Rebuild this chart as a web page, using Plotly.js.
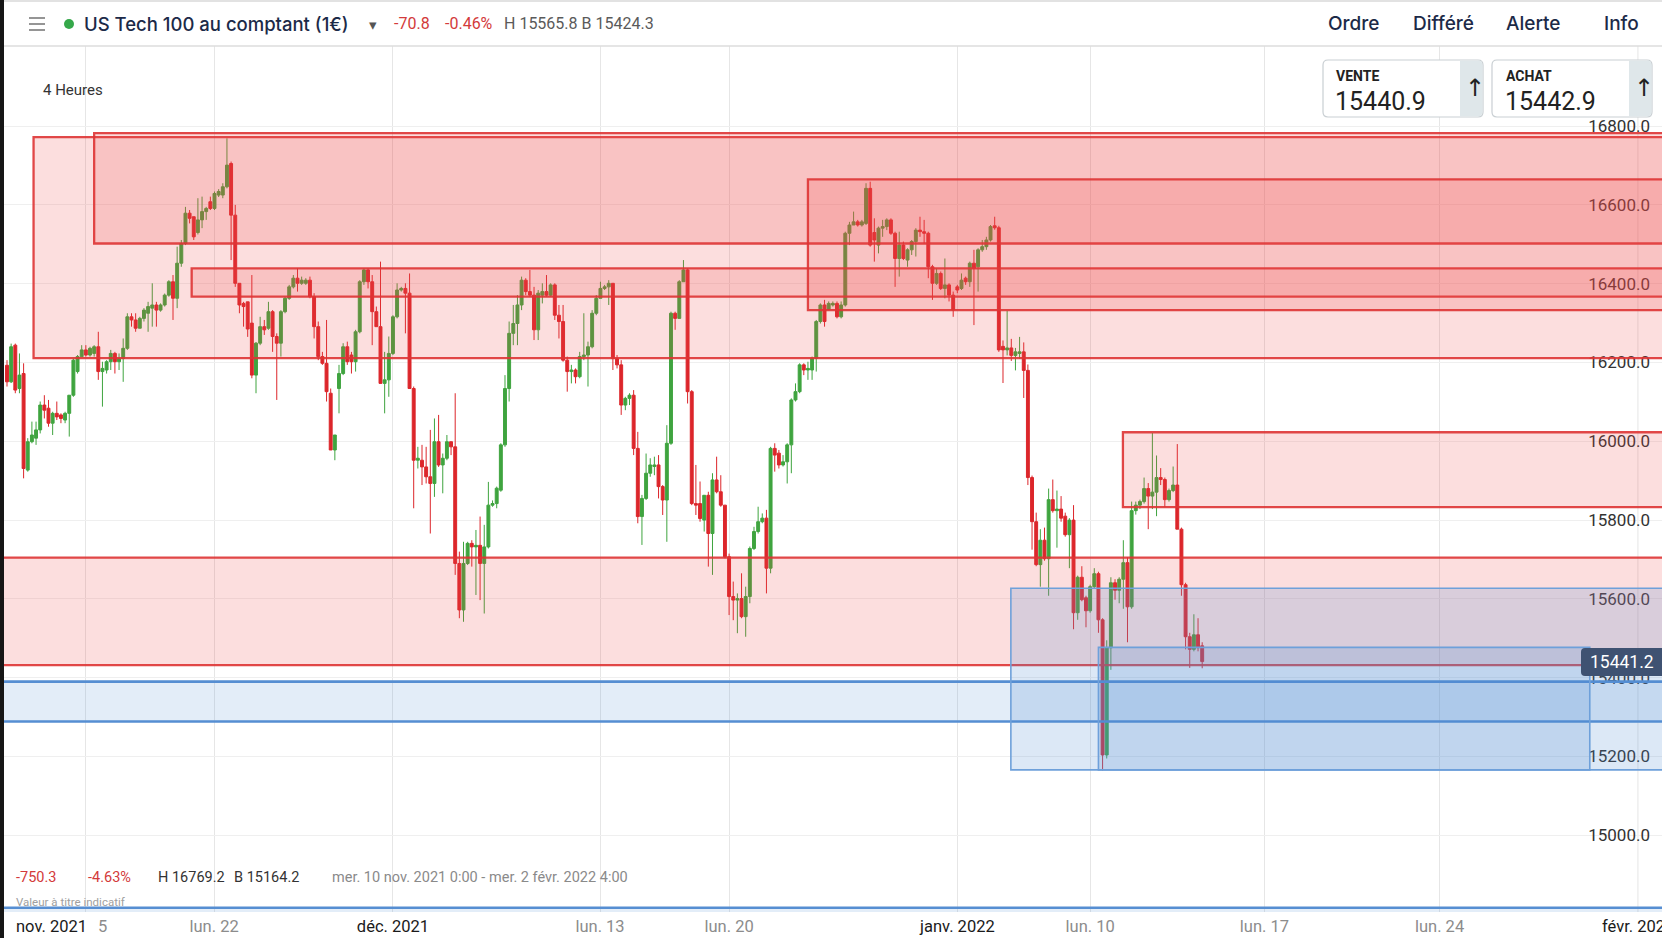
<!DOCTYPE html>
<html>
<head>
<meta charset="utf-8">
<script src="https://cdn.plot.ly/plotly-3.0.1.min.js"></script>
<style>
  html, body { margin: 0; padding: 0; background: #fff; }
  #chart { width: 1662px; height: 938px; }
</style>
</head>
<body>
<div id="chart"></div>
<script>
// 4h candles, US Tech 100, from mer. 10 nov. 2021 0:00 (one value per candle)
var open = [
  16193,16151,16244,16134,16172,15927,15999,16008,16029,16092,
  16084,16046,16071,16067,16054,16071,16117,16177,16215,16232,
  16219,16223,16240,16177,16181,16202,16223,16202,16210,16236,
  16316,16308,16287,16312,16325,16338,16346,16333,16346,16371,
  16405,16363,16452,16502,16579,16570,16530,16562,16583,16608,
  16591,16625,16625,16646,16705,16574,16401,16350,16354,16300,
  16168,16249,16291,16287,16329,16266,16249,16329,16363,16392,
  16414,16401,16401,16409,16367,16291,16215,16198,16122,15978,
  16134,16172,16240,16219,16202,16278,16405,16435,16405,16329,
  16291,16147,16156,16223,16316,16384,16388,16376,16134,15952,
  15952,15935,15910,15893,15999,15940,15957,15999,15986,15690,
  15572,15690,15741,15732,15736,15690,15732,15838,15842,15876,
  15991,16134,16274,16299,16346,16409,16380,16371,16283,16371,
  16380,16371,16397,16320,16304,16206,16177,16181,16164,16215,
  16219,16240,16325,16363,16388,16392,16401,16210,16194,16092,
  16109,16117,15982,15809,15855,15919,15936,15940,15885,15851,
  15995,16325,16312,16405,16435,16126,15842,15842,15800,15863,
  15766,15902,15872,15838,15707,15606,15597,15601,15555,15606,
  15728,15771,15796,15805,15678,15982,15970,15940,15948,15991,
  16105,16126,16194,16181,16181,16211,16304,16346,16335,16346,
  16350,16316,16346,16528,16549,16557,16549,16553,16642,16530,
  16498,16541,16545,16562,16528,16464,16498,16460,16486,16507,
  16536,16532,16528,16443,16401,16426,16388,16397,16371,16392,
  16388,16414,16405,16452,16443,16486,16494,16511,16547,16542,
  16241,16232,16237,16218,16223,16227,16180,15908,15796,15687,
  15749,15702,15852,15824,15828,15810,15763,15800,15565,15655,
  15603,15570,15631,15664,15547,15204,15476,15641,15622,15650,
  15692,15580,15824,15838,15847,15880,15861,15871,15908,15903,
  15852,15875,15889,15777,15636,15504,15472,15509,15481
];
var high = [
  16206,16248,16248,16223,16198,16008,16050,16050,16101,16117,
  16105,16075,16101,16071,16075,16117,16210,16219,16244,16244,
  16240,16244,16278,16202,16206,16232,16227,16223,16261,16325,
  16325,16325,16316,16338,16354,16401,16354,16350,16375,16409,
  16422,16494,16511,16595,16587,16570,16617,16621,16595,16621,
  16634,16640,16655,16769,16710,16600,16401,16354,16354,16422,
  16252,16316,16308,16354,16333,16274,16333,16367,16397,16422,
  16439,16418,16414,16418,16376,16304,16227,16308,16134,16016,
  16194,16249,16253,16227,16283,16409,16439,16439,16422,16342,
  16456,16227,16266,16320,16401,16392,16401,16426,16139,15986,
  15991,15986,16029,16058,16067,15969,16016,15999,16122,15720,
  15745,15745,15749,15775,15809,15788,15897,15850,15885,15995,
  16168,16304,16346,16371,16418,16414,16435,16392,16384,16401,
  16422,16401,16401,16346,16346,16215,16194,16185,16227,16325,
  16253,16333,16371,16405,16397,16409,16401,16219,16206,16113,
  16122,16130,16024,15864,15969,15957,15961,15965,15889,16041,
  16329,16329,16409,16460,16439,16130,15940,15898,15863,15872,
  15919,15961,15914,15838,15715,15644,15614,15665,15631,15733,
  15783,15834,15817,15826,15986,15995,15978,15965,15995,16109,
  16147,16198,16198,16202,16215,16308,16350,16359,16355,16355,
  16355,16355,16532,16557,16583,16562,16562,16655,16659,16566,
  16545,16562,16566,16566,16532,16532,16507,16490,16511,16541,
  16570,16562,16532,16448,16439,16431,16464,16401,16380,16397,
  16426,16418,16456,16486,16490,16511,16519,16549,16570,16547,
  16256,16331,16260,16237,16265,16251,16195,15913,15819,15777,
  15781,15880,15903,15875,15861,15819,15805,15838,15659,15683,
  15608,15636,15678,15669,15551,15495,15655,15650,15655,15749,
  15706,15847,15847,15852,15908,15894,16021,15964,15932,15908,
  15880,15936,15993,15781,15641,15514,15561,15551,15490
];
var low = [
  16139,16148,16122,16122,15906,15923,15995,15991,16020,16058,
  16037,16016,16054,16046,16046,16012,16113,16172,16215,16215,
  16215,16215,16156,16088,16172,16181,16172,16181,16151,16232,
  16291,16278,16287,16304,16278,16291,16291,16329,16342,16367,
  16308,16338,16443,16498,16553,16511,16525,16541,16562,16587,
  16587,16620,16617,16642,16460,16392,16325,16291,16265,16160,
  16122,16244,16270,16283,16227,16105,16215,16325,16359,16388,
  16380,16397,16397,16363,16261,16206,16194,16101,15978,15952,
  16071,16168,16194,16172,16177,16274,16397,16388,16244,16291,
  16147,16071,16113,16219,16312,16380,16274,16134,15830,15931,
  15889,15893,15766,15859,15935,15868,15952,15965,15661,15551,
  15542,15686,15682,15610,15597,15563,15728,15834,15830,15872,
  15986,16101,16244,16244,16333,16371,16367,16257,16257,16350,
  16367,16367,16308,16261,16202,16126,16147,16147,16160,16206,
  16139,16236,16320,16363,16384,16346,16181,16185,16067,16079,
  16092,15965,15792,15737,15851,15910,15914,15855,15813,15745,
  15991,16283,16312,16405,16096,15838,15813,15796,15771,15682,
  15661,15868,15834,15703,15559,15546,15513,15551,15504,15589,
  15724,15766,15792,15614,15665,15923,15931,15936,15893,15919,
  16101,16122,16168,16156,16156,16177,16299,16291,16333,16342,
  16312,16312,16342,16498,16549,16545,16545,16549,16494,16456,
  16477,16519,16536,16524,16392,16418,16460,16443,16473,16469,
  16519,16502,16414,16359,16397,16384,16363,16355,16316,16376,
  16384,16397,16392,16295,16380,16481,16486,16507,16537,16227,
  16148,16218,16204,16180,16209,16110,15889,15725,15683,15631,
  15697,15608,15819,15730,15796,15758,15678,15523,15547,15594,
  15528,15565,15626,15514,15164,15195,15420,15598,15589,15575,
  15490,15575,15814,15828,15842,15777,15828,15810,15889,15833,
  15847,15871,15777,15608,15472,15425,15467,15467,15424
];
var close = [
  16151,16240,16130,16168,15931,15999,16016,16029,16092,16079,
  16046,16071,16062,16058,16071,16117,16206,16215,16232,16219,
  16236,16240,16177,16185,16202,16223,16202,16210,16236,16316,
  16308,16287,16312,16333,16342,16346,16333,16346,16371,16405,
  16363,16452,16502,16579,16566,16519,16562,16583,16591,16591,
  16629,16634,16646,16701,16574,16401,16346,16342,16285,16168,
  16249,16291,16283,16329,16266,16249,16329,16363,16392,16414,
  16401,16409,16409,16367,16291,16215,16198,16126,15978,16016,
  16172,16240,16202,16202,16278,16405,16435,16405,16329,16291,
  16147,16156,16223,16316,16384,16388,16376,16134,15952,15957,
  15935,15910,15893,15999,15940,15957,15999,15986,15690,15572,
  15690,15741,15732,15736,15690,15732,15838,15842,15881,15991,
  16134,16274,16299,16346,16409,16380,16371,16283,16376,16380,
  16371,16397,16320,16304,16206,16177,16181,16164,16215,16219,
  16240,16325,16363,16388,16392,16401,16210,16194,16092,16109,
  16117,15982,15809,15855,15919,15940,15940,15885,15851,15995,
  16325,16312,16405,16435,16126,15842,15838,15804,15863,15766,
  15902,15872,15838,15707,15606,15597,15601,15555,15606,15728,
  15771,15796,15805,15678,15982,15965,15940,15948,15991,16105,
  16126,16194,16181,16185,16211,16304,16346,16304,16350,16350,
  16316,16346,16528,16549,16557,16549,16557,16642,16498,16511,
  16541,16545,16562,16528,16464,16498,16464,16486,16507,16536,
  16532,16528,16443,16401,16426,16388,16397,16371,16333,16384,
  16409,16405,16452,16439,16486,16494,16511,16545,16542,16232,
  16232,16237,16218,16227,16227,16180,15908,15796,15687,15749,
  15702,15852,15824,15828,15805,15763,15800,15565,15655,15598,
  15570,15631,15664,15547,15204,15476,15641,15622,15650,15692,
  15580,15824,15838,15847,15880,15861,15871,15908,15903,15852,
  15875,15889,15777,15636,15504,15472,15509,15476,15441
];

// x axis: candle number, labels where the app puts them
var tickPos = [19.0, 49.9, 93.0, 142.9, 174.0, 229.0, 261.0, 303.0, 345.2, 393.0];
var tickLabels = ['', 'lun. 22', 'déc. 2021', 'lun. 13', 'lun. 20', 'janv. 2022', 'lun. 10', 'lun. 17', 'lun. 24', 'févr. 2022'];

// drawn zones: [first candle, last candle, low price, high price]
var redZones = [
  [6.4, 420, 16211, 16772],
  [21.0, 420, 16502, 16782],
  [44.5, 420, 16367, 16439],
  [193.0, 420, 16333, 16665],
  [268.9, 420, 15833, 16023],
  [-10, 420, 15432, 15705]
];
var blueZones = [
  [-10, 420, 15289, 15390],
  [241.9, 420, 15166, 15627],
  [263.0, 381.4, 15166, 15477],
  [-10, 420, 14600, 14816]
];

var lastPrice = 15441.2;

var W = 1662, H = 938;
var EDGE_TICK = 380;   // ticks past this sit under the price labels, drawn by hand
function X(px) { return px / W; }
function Y(py) { return 1 - py / H; }
function pt(x, y) { return X(x).toFixed(5) + ',' + Y(y).toFixed(5); }

function roundRect(x0, y0, x1, y1, r) {
  return 'M' + pt(x0 + r, y0) + ' L' + pt(x1 - r, y0) + ' Q' + pt(x1, y0) + ' ' + pt(x1, y0 + r) +
    ' L' + pt(x1, y1 - r) + ' Q' + pt(x1, y1) + ' ' + pt(x1 - r, y1) +
    ' L' + pt(x0 + r, y1) + ' Q' + pt(x0, y1) + ' ' + pt(x0, y1 - r) +
    ' L' + pt(x0, y0 + r) + ' Q' + pt(x0, y0) + ' ' + pt(x0 + r, y0) + ' Z';
}
function rightRound(x0, y0, x1, y1, r) {
  return 'M' + pt(x0, y0) + ' L' + pt(x1 - r, y0) + ' Q' + pt(x1, y0) + ' ' + pt(x1, y0 + r) +
    ' L' + pt(x1, y1 - r) + ' Q' + pt(x1, y1) + ' ' + pt(x1 - r, y1) + ' L' + pt(x0, y1) + ' Z';
}
function leftRound(x0, y0, x1, y1, r) {
  return 'M' + pt(x0 + r, y0) + ' L' + pt(x1, y0) + ' L' + pt(x1, y1) + ' L' + pt(x0 + r, y1) +
    ' Q' + pt(x0, y1) + ' ' + pt(x0, y1 - r) + ' L' + pt(x0, y0 + r) + ' Q' + pt(x0, y0) + ' ' + pt(x0 + r, y0) + ' Z';
}

var HEAD = 'Inter, Roboto, sans-serif';
var BODY = 'Roboto, "Liberation Sans", sans-serif';

function txt(x, y, text, size, color, family, extra) {
  var a = {
    xref: 'paper', yref: 'paper', x: X(x), y: Y(y),
    xanchor: 'left', yanchor: 'middle', showarrow: false, text: text,
    font: { family: family || BODY, size: size, color: color }
  };
  if (extra) for (var k in extra) a[k] = extra[k];
  return a;
}
function menu(x, text) {
  return txt(x, 24, text, 19, '#1c2a48', HEAD, { font: { family: HEAD, size: 19, color: '#1c2a48', weight: 500 } });
}
function tickColor(t) { return t.indexOf('lun.') === 0 ? '#8c8c8c' : '#1a1a1a'; }

var idx = close.map(function (_, i) { return i; });

var candles = {
  type: 'candlestick',
  x: idx, open: open, high: high, low: low, close: close,
  increasing: { line: { color: '#3fa43f', width: 1 }, fillcolor: '#3fa43f' },
  decreasing: { line: { color: '#dc262b', width: 1 }, fillcolor: '#dc262b' },
  whiskerwidth: 0,
  hoverinfo: 'none',
  showlegend: false
};

var shapes = [];
redZones.forEach(function (z) {
  shapes.push({
    type: 'rect', xref: 'x', yref: 'y', layer: 'above',
    x0: z[0], x1: z[1], y0: z[2], y1: z[3],
    fillcolor: 'rgba(236,72,72,0.18)',
    line: { color: 'rgba(222,52,52,0.9)', width: 2.3 }
  });
});
blueZones.forEach(function (z, i) {
  var band = (i === 0 || i === 3);
  shapes.push({
    type: 'rect', xref: 'x', yref: 'y', layer: 'above',
    x0: z[0], x1: z[1], y0: z[2], y1: z[3],
    fillcolor: band ? 'rgba(80,140,210,0.16)' : 'rgba(80,140,210,0.2)',
    line: { color: band ? 'rgb(86,142,210)' : 'rgb(110,160,218)', width: band ? 2.6 : 1.6 }
  });
});

// header chrome
shapes.push({ type: 'line', xref: 'paper', yref: 'paper', x0: 0, x1: 1, y0: Y(46), y1: Y(46), line: { color: '#dcdcdc', width: 1.5 }, layer: 'above' });
shapes.push({ type: 'line', xref: 'paper', yref: 'paper', x0: 0, x1: 1, y0: Y(1), y1: Y(1), line: { color: '#d8d8d8', width: 1.5 }, layer: 'above' });
[18, 24, 30].forEach(function (yy) {
  shapes.push({ type: 'line', xref: 'paper', yref: 'paper', x0: X(29), x1: X(45), y0: Y(yy), y1: Y(yy), line: { color: '#8a8a8a', width: 1.8 }, layer: 'above' });
});
shapes.push({ type: 'circle', xref: 'paper', yref: 'paper', x0: X(64), x1: X(74), y0: Y(19), y1: Y(29), fillcolor: '#35a84a', line: { width: 0 }, layer: 'above' });
// left dark edge
shapes.push({ type: 'rect', xref: 'paper', yref: 'paper', x0: 0, x1: X(4), y0: 0, y1: 1, fillcolor: '#161616', line: { width: 0 }, layer: 'above' });

// sell / buy boxes
[1323, 1492].forEach(function (x0) {
  var x1 = x0 + 160;
  shapes.push({ type: 'path', xref: 'paper', yref: 'paper', path: roundRect(x0, 60, x1, 117, 5), fillcolor: '#ffffff', line: { color: '#c9cfd3', width: 1.2 }, layer: 'above' });
  shapes.push({ type: 'path', xref: 'paper', yref: 'paper', path: rightRound(x1 - 23, 60.6, x1 - 0.6, 116.4, 4.5), fillcolor: '#dfe7ea', line: { width: 0 }, layer: 'above' });
});
// price tag
shapes.push({ type: 'path', xref: 'paper', yref: 'paper', path: leftRound(1581, 648, 1663, 676, 4), fillcolor: '#3f5272', line: { width: 0 }, layer: 'above' });

var annotations = [
  txt(82, 24, 'US Tech 100 au comptant (1€)', 18.5, '#1c2a48', HEAD, { font: { family: HEAD, size: 18.5, color: '#1c2a48', weight: 500 } }),
  txt(367, 25, '▾', 15, '#555555', 'DejaVu Sans'),
  txt(392, 24, '-70.8', 16, '#d33a3a'),
  txt(443, 24, '-0.46%', 16, '#d33a3a'),
  txt(502, 24, 'H 15565.8 B 15424.3', 16, '#5a5a5a'),
  menu(1326, 'Ordre'),
  menu(1411, 'Différé'),
  menu(1504, 'Alerte'),
  menu(1602, 'Info'),
  txt(41, 90, '4 Heures', 15, '#333333'),

  txt(1334, 76, '<b>VENTE</b>', 14, '#222222'),
  txt(1333, 101, '15440.9', 25, '#222222'),
  txt(1463, 88, '↑', 24, '#222222', 'DejaVu Sans'),
  txt(1504, 76, '<b>ACHAT</b>', 14, '#222222'),
  txt(1503, 101, '15442.9', 25, '#222222'),
  txt(1632, 88, '↑', 24, '#222222', 'DejaVu Sans'),

  txt(1588, 662, lastPrice.toFixed(1), 17.5, '#ffffff'),

  txt(14, 877, '-750.3', 14.5, '#d33a3a'),
  txt(86, 877, '-4.63%', 14.5, '#d33a3a'),
  txt(156, 877, 'H 16769.2', 14.5, '#333333'),
  txt(232, 877, 'B 15164.2', 14.5, '#333333'),
  txt(330, 877, 'mer. 10 nov. 2021 0:00 - mer. 2 févr. 2022 4:00', 14.5, '#8a8a8a'),
  txt(14, 902, 'Valeur à titre indicatif', 11.5, '#a0a0a0'),

  txt(14, 926, 'nov. 2021', 16.5, '#1a1a1a'),
  txt(96, 926, '5', 16.5, '#8c8c8c')
];

// axis ticks, except the one hidden by plotly under the inside price labels
var axisPos = [], axisText = [];
tickPos.forEach(function (p, i) {
  if (p < EDGE_TICK) {
    axisPos.push(p);
    axisText.push('<span style="color:' + tickColor(tickLabels[i]) + '">' + tickLabels[i] + '</span>');
  } else {
    shapes.push({ type: 'line', xref: 'x', yref: 'paper', x0: p, x1: p, y0: (H - 912) / H, y1: (H - 46) / H, line: { color: '#e6e6e6', width: 1 }, layer: 'below' });
    annotations.push({ xref: 'x', yref: 'paper', x: p, y: Y(926), xanchor: 'center', yanchor: 'middle', showarrow: false,
      text: tickLabels[i], font: { family: BODY, size: 16.5, color: tickColor(tickLabels[i]) } });
  }
});

var yTicks = [15000, 15200, 15400, 15600, 15800, 16000, 16200, 16400, 16600, 16800];

var layout = {
  width: W, height: H,
  margin: { l: 0, r: 0, t: 0, b: 0, pad: 0 },
  paper_bgcolor: '#ffffff', plot_bgcolor: '#ffffff',
  showlegend: false,
  hovermode: false,
  boxgap: 0.3,
  boxgroupgap: 0,
  font: { family: BODY, color: '#333' },
  xaxis: {
    type: 'linear', domain: [0, 1], range: [-1.687, 398.8],
    rangeslider: { visible: false },
    tickmode: 'array', tickvals: axisPos, ticktext: axisText,
    tickfont: { family: BODY, size: 16.5, color: '#8c8c8c' },
    ticks: '', ticklabelstandoff: 2,
    showgrid: true, gridcolor: '#e6e6e6', gridwidth: 1,
    zeroline: false, showline: false, fixedrange: true, automargin: false
  },
  yaxis: {
    domain: [(H - 912) / H, (H - 46) / H], range: [14805.4, 17003.3],
    side: 'right', ticklabelposition: 'inside', ticklabelstandoff: 9,
    tickmode: 'array', tickvals: yTicks, ticktext: yTicks.map(function (v) { return v.toFixed(1); }),
    tickfont: { family: BODY, size: 17, color: '#333333' },
    ticks: '', showgrid: true, gridcolor: '#efefef', gridwidth: 1,
    zeroline: false, showline: false, fixedrange: true, automargin: false
  },
  shapes: shapes,
  annotations: annotations
};

Plotly.newPlot('chart', [candles], layout, { displayModeBar: false, staticPlot: true });
</script>
</body>
</html>
